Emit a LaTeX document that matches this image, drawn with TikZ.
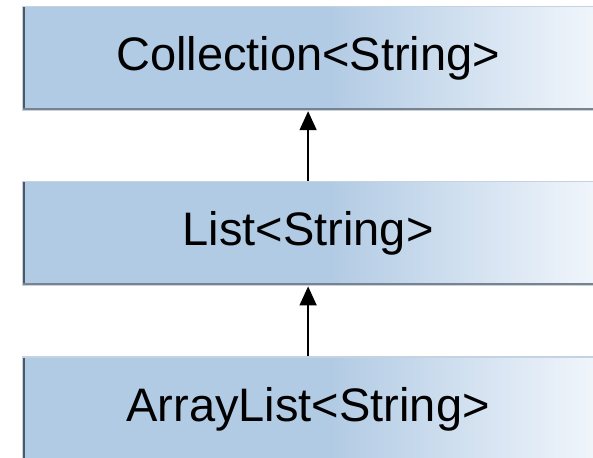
\documentclass[tikz,border=0pt]{standalone}
\usepackage{fontspec}
\setmainfont{Liberation Sans}
\usetikzlibrary{positioning,arrows.meta}
\definecolor{boxblue}{RGB}{178,203,228}
\definecolor{boxpale}{RGB}{240,245,251}
\definecolor{edgedark}{RGB}{78,88,100}
\definecolor{edgelight}{RGB}{196,210,226}
\pgfdeclarehorizontalshading{typeshade}{100bp}{color(0bp)=(boxblue);
  color(25bp)=(boxblue); color(52bp)=(boxblue); color(75bp)=(boxpale);
  color(100bp)=(boxpale)}

\begin{document}
\begin{tikzpicture}[
  font=\fontsize{23.5}{27}\selectfont,
  node distance=35pt,
  typebox/.style={shade, shading=typeshade, draw=edgelight, line width=0.6pt,
                  minimum width=285.5pt, minimum height=52pt, inner sep=0pt,
                  path picture={
                    \draw[edgedark, line width=2.4pt]
                      (path picture bounding box.north west) --
                      (path picture bounding box.south west);
                    \draw[edgedark!75, line width=2.6pt]
                      (path picture bounding box.south west) --
                      (path picture bounding box.south east);}},
  arrow/.style={-{Triangle[width=8.5pt, length=9.5pt]}, line width=0.8pt}
]
\useasboundingbox (0,0) rectangle (296.5pt,-229pt);
\node[typebox, anchor=north west] (coll) at (11pt,-3pt) {Collection<String>};
\node[typebox, below=of coll] (list) {List<String>};
\node[typebox, below=of list] (alist) {ArrayList<String>};

\draw[arrow] (list) -- (coll);
\draw[arrow] (alist) -- (list);
\end{tikzpicture}
\end{document}
